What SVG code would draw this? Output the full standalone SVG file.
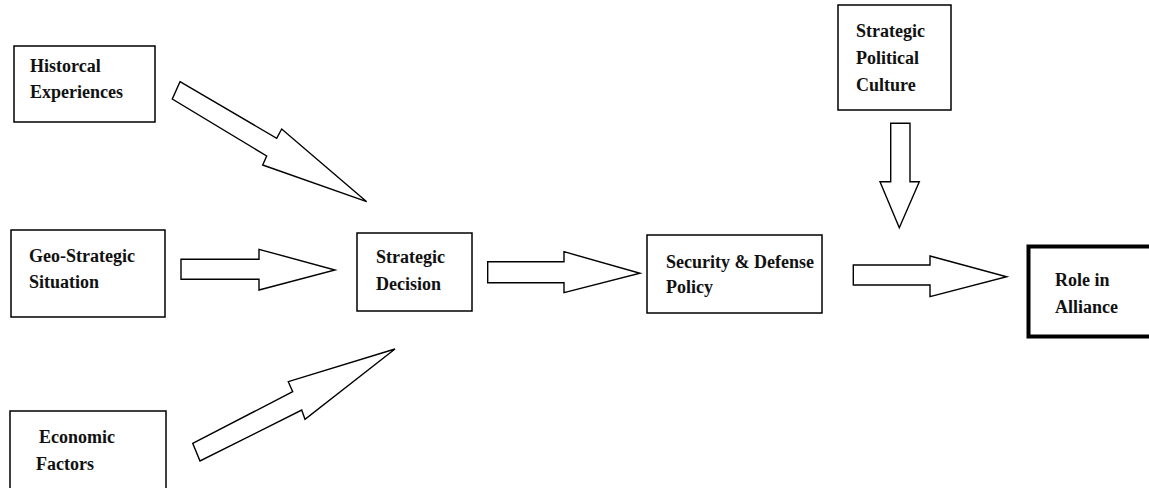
<svg xmlns="http://www.w3.org/2000/svg" width="1149" height="488" viewBox="0 0 1149 488">
<style>
.box{fill:#fff;stroke:#000;stroke-width:1.5}
.thick{fill:#fff;stroke:#000;stroke-width:4}
.arr{fill:#fff;stroke:#000;stroke-width:1.4;stroke-linejoin:miter}
text{font-family:"Liberation Serif","Times New Roman",serif;font-weight:bold;font-size:18px;fill:#111}
</style>
<rect width="1149" height="488" fill="#fff"/>
<g id="connectors">
<polygon class="arr" points="180,81.7 276.7,138.3 281.7,129 366.7,201.7 262.7,165 266.7,156 172.3,99"/>
<polygon class="arr" points="181,259.3 259,259.3 259,249.3 335,270 259,290 259,279.3 181,279.3"/>
<polygon class="arr" points="192.7,443.3 292.7,391.7 288.3,381.7 395,349 305,419.3 301.7,410 200,461"/>
<polygon class="arr" points="487.7,261.7 564,261.7 564,251.7 640,273.3 564,292.7 564,282.7 487.7,282.7"/>
<polygon class="arr" points="890.7,123.3 910,123.3 910,181.7 919.3,181.7 899.3,227.7 880,181.7 890.7,181.7"/>
<polygon class="arr" points="853.3,265 930,265 930,256 1006.7,276.7 930,296.7 930,285 853.3,285"/>
</g>
<g id="historical">
<rect class="box" x="14" y="46" width="141" height="76"/>
<text x="30" y="72">Historcal</text>
<text x="30" y="98">Experiences</text>
</g>
<g id="geo">
<rect class="box" x="11" y="230" width="154" height="87"/>
<text x="29" y="262">Geo-Strategic</text>
<text x="29" y="288">Situation</text>
</g>
<g id="economic">
<rect class="box" x="10" y="411" width="156" height="90"/>
<text x="39" y="443">Economic</text>
<text x="36" y="470">Factors</text>
</g>
<g id="decision">
<rect class="box" x="357" y="233" width="115" height="78"/>
<text x="376" y="263">Strategic</text>
<text x="376" y="290">Decision</text>
</g>
<g id="security">
<rect class="box" x="647" y="235" width="175" height="78"/>
<text x="666" y="268">Security &amp; Defense</text>
<text x="666" y="293">Policy</text>
</g>
<g id="culture">
<rect class="box" x="838" y="5" width="113" height="105"/>
<text x="856" y="37">Strategic</text>
<text x="856" y="64">Political</text>
<text x="856" y="91">Culture</text>
</g>
<g id="role">
<rect class="thick" x="1028.5" y="246.5" width="130" height="90"/>
<text x="1055" y="286">Role in</text>
<text x="1055" y="313">Alliance</text>
</g>
</svg>
